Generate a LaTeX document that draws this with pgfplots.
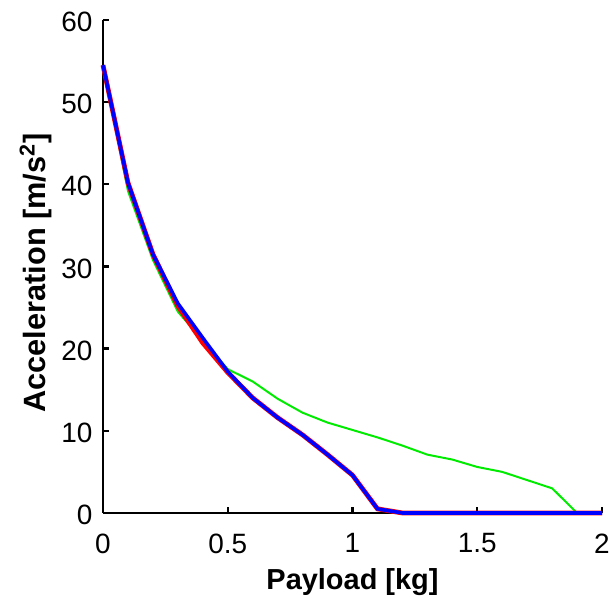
\documentclass[border=0pt]{standalone}
\usepackage{fontspec}
\setmainfont{Liberation Sans}
\usepackage{pgfplots}
\pgfplotsset{compat=1.18}
\usetikzlibrary{calc}

\begin{document}
\begin{tikzpicture}
\begin{axis}[
  name=ax,
  scale only axis,
  width=250pt, height=247pt,
  xmin=0, xmax=2, ymin=0, ymax=60,
  xtick={0,0.5,1,1.5,2}, ytick={0,10,20,30,40,50,60},
  axis lines*=left,
  axis line style={black, line width=1.2pt},
  tick style={black, line width=1.2pt},
  major tick length=3pt,
  tick align=inside,
  clip=false,
  /pgf/number format/assume math mode=true,
  tick label style={font=\fontsize{14}{16}\selectfont},
  xticklabel style={yshift=-6.8pt},
  yticklabel style={xshift=-1.8pt, yshift=-1pt},
  label style={font=\fontsize{14.5}{16}\selectfont\bfseries},
  xlabel={Payload [kg]},
  ylabel={Acceleration [m/s\textsuperscript{2}]},
  xlabel style={at={(axis description cs:0.5,-0.156)}, anchor=base},
  ylabel style={at={(axis description cs:-0.116,0.487)}, anchor=base,
                font=\fontsize{15.4}{17}\selectfont\bfseries},
]
\addplot[color={rgb,255:red,0;green,235;blue,0}, line width=1pt] coordinates {
  (0,54.5) (0.1,39.2) (0.2,30.8) (0.3,24.5) (0.4,21.0) (0.5,17.5)
  (0.6,16.0) (0.7,13.9) (0.8,12.2) (0.9,11.0) (1.0,10.1) (1.1,9.2)
  (1.2,8.2) (1.3,7.1) (1.4,6.5) (1.5,5.6) (1.6,5.0) (1.7,4.0)
  (1.8,3.0) (1.9,0) (2.0,0)};
\addplot[red, line width=2.4pt] coordinates {
  (0,54.5) (0.1,40.2) (0.2,31.5) (0.3,25.2) (0.4,20.7) (0.5,17.1)
  (0.6,14.0) (0.7,11.6) (0.8,9.5) (0.9,7.1) (1.0,4.6) (1.1,0.5)
  (1.2,0) (1.3,0) (1.4,0) (1.5,0) (1.6,0) (1.7,0) (1.8,0) (1.9,0) (2.0,0)};
\addplot[blue, line width=1.8pt] coordinates {
  (0,54.5) (0.1,40.2) (0.2,31.5) (0.3,25.5) (0.4,21.3) (0.5,17.2)
  (0.6,14.0) (0.7,11.6) (0.8,9.5) (0.9,7.1) (1.0,4.6) (1.1,0.5)
  (1.2,0) (1.3,0) (1.4,0) (1.5,0) (1.6,0) (1.7,0) (1.8,0) (1.9,0) (2.0,0)};
\end{axis}
\pgfresetboundingbox
\path ($(ax.south west)+(-51.6pt,-43pt)$) rectangle ($(ax.north east)+(4pt,10pt)$);
\end{tikzpicture}
\end{document}
